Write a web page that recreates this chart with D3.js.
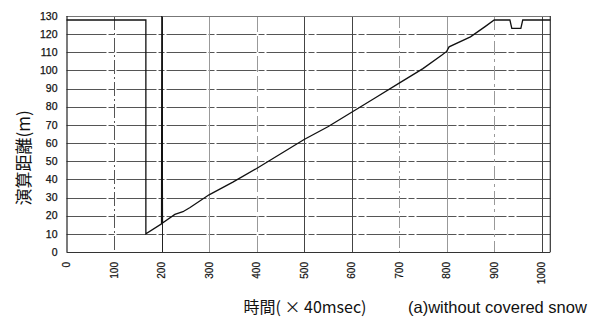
<!DOCTYPE html>
<html>
<head>
<meta charset="utf-8">
<script src="https://cdn.jsdelivr.net/npm/d3@7"></script>
<style>
  html, body { margin: 0; padding: 0; background: #fff; }
  svg { display: block; }
</style>
</head>
<body>
<svg id="chart" width="604" height="323"></svg>
<script>
// Computed distance over time (one frame = 40 msec)
const timeFrames = [0, 167, 167, 200, 200.6, 202, 228, 245, 260, 300, 350, 400, 450, 500, 550,
  600, 650, 700, 750, 790, 800, 805, 850, 880, 900, 933, 937, 956, 960, 1018];
const distanceM = [127.8, 127.8, 10, 15.5, 130, 16, 20.7, 22.2, 24.5, 31.5, 38.5, 46, 54, 62, 69,
  77, 85, 93, 101, 108.5, 110.5, 113, 118.5, 124, 127.8, 127.8, 123.2, 123.2, 127.8, 127.8];

const xTicks = [0, 100, 200, 300, 400, 500, 600, 700, 800, 900, 1000];
const yTicks = [0, 10, 20, 30, 40, 50, 60, 70, 80, 90, 100, 110, 120, 130];

const yTitle = "演算距離(m)";
const xTitle = "時間( × 40msec)";
const caption = "(a)without covered snow";

const svg = d3.select("#chart");
const plotL = 66.5, plotR = 550.3, plotT = 16, plotB = 252;

const x = d3.scaleLinear().domain([0, 1018]).range([plotL, plotR]);
const y = d3.scaleLinear().domain([0, 130]).range([plotB, plotT]);

const font = "'Liberation Sans', Arial, sans-serif";

// vertical grid styling per tick (scanned-print look: some grey, some dashed)
const vStyle = {
  100: { c: "#555", d: "14,3,2,3" },
  200: { c: "#222", d: null },
  300: { c: "#999", d: null },
  400: { c: "#999", d: "16,4" },
  500: { c: "#444", d: null },
  600: { c: "#444", d: null },
  700: { c: "#999", d: "12,3,2,3" },
  800: { c: "#999", d: null },
  900: { c: "#999", d: "14,4,3,4" },
  1000: { c: "#444", d: null }
};

// horizontal grid
svg.append("g").selectAll("line")
  .data(yTicks.filter(v => v > 0 && v < 130))
  .join("line")
  .attr("x1", plotL).attr("x2", plotR)
  .attr("y1", d => Math.round(y(d)) + 0.5).attr("y2", d => Math.round(y(d)) + 0.5)
  .attr("stroke", "#555").attr("stroke-width", 1)
  .attr("stroke-dasharray", "40,2,6,2");

// vertical grid
svg.append("g").selectAll("line")
  .data(xTicks.filter(v => v > 0))
  .join("line")
  .attr("x1", d => Math.round(x(d)) + 0.5).attr("x2", d => Math.round(x(d)) + 0.5)
  .attr("y1", plotT).attr("y2", plotB)
  .attr("stroke", d => vStyle[d].c)
  .attr("stroke-width", 1)
  .attr("stroke-dasharray", d => vStyle[d].d);

// frame
svg.append("line").attr("x1", plotL).attr("x2", plotR).attr("y1", plotT + 0.5).attr("y2", plotT + 0.5)
  .attr("stroke", "#777").attr("stroke-width", 1.2);
svg.append("line").attr("x1", plotL).attr("x2", plotR).attr("y1", plotB + 0.5).attr("y2", plotB + 0.5)
  .attr("stroke", "#333").attr("stroke-width", 1.2);
svg.append("line").attr("x1", plotL + 0.5).attr("x2", plotL + 0.5).attr("y1", plotT).attr("y2", plotB)
  .attr("stroke", "#222").attr("stroke-width", 1.2);
svg.append("line").attr("x1", plotR).attr("x2", plotR).attr("y1", plotT).attr("y2", plotB)
  .attr("stroke", "#333").attr("stroke-width", 1.2);

// y tick labels
svg.append("g").selectAll("text")
  .data(yTicks)
  .join("text")
  .attr("x", 57.5).attr("y", d => y(d))
  .attr("dy", "0.35em")
  .attr("text-anchor", "end")
  .attr("font-family", font).attr("font-size", 10.5)
  .attr("fill", "#111").attr("stroke", "#111").attr("stroke-width", 0.25)
  .text(d => d);

// x tick labels, rotated
svg.append("g").selectAll("text")
  .data(xTicks)
  .join("text")
  .attr("transform", d => `translate(${x(d)},262) rotate(-90)`)
  .attr("dy", "0.35em")
  .attr("text-anchor", "end")
  .attr("font-family", font).attr("font-size", 10)
  .attr("fill", "#111").attr("stroke", "#111").attr("stroke-width", 0.2)
  .text(d => d);

// data line
const line = d3.line().x((d, i) => x(timeFrames[i])).y(d => y(d));
svg.append("path")
  .attr("d", line(distanceM))
  .attr("fill", "none")
  .attr("stroke", "#111")
  .attr("stroke-width", 1.3)
  .attr("stroke-linejoin", "miter");

// titles
svg.append("text")
  .attr("transform", "translate(30,158) rotate(-90)")
  .attr("text-anchor", "middle")
  .attr("font-family", "'Noto Sans CJK JP', sans-serif")
  .attr("font-size", 17)
  .attr("fill", "#111")
  .text(yTitle);

svg.append("text")
  .attr("x", 305).attr("y", 313)
  .attr("text-anchor", "middle")
  .attr("font-family", "'Noto Sans CJK JP', sans-serif")
  .attr("font-size", 16)
  .attr("fill", "#111")
  .text(xTitle);

svg.append("text")
  .attr("x", 408).attr("y", 313)
  .attr("font-family", font)
  .attr("font-size", 16.5)
  .attr("fill", "#111")
  .text(caption);
</script>
</body>
</html>
